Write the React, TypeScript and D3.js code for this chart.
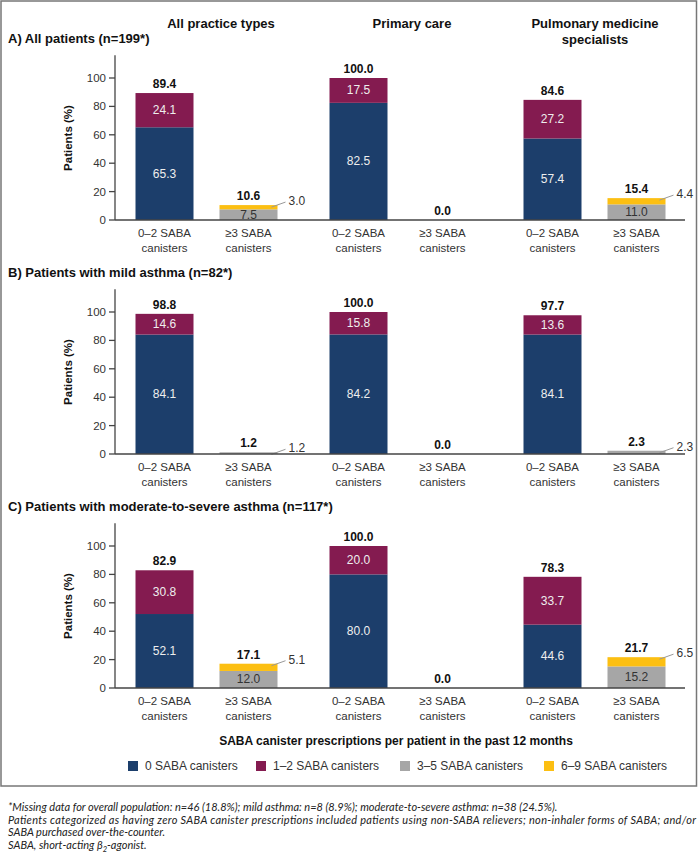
import React from "react";
import * as d3 from "d3";

const practiceTypes = ["All practice types", "Primary care", "Pulmonary medicine specialists"];
const practiceHeaderLines = [["All practice types"], ["Primary care"], ["Pulmonary medicine", "specialists"]];
const canisterCategories = ["0–2 SABA canisters", "≥3 SABA canisters"];
const categoryLabelLines = [["0–2 SABA", "canisters"], ["≥3 SABA", "canisters"]];
const seriesNames = ["0 SABA canisters", "1–2 SABA canisters", "3–5 SABA canisters", "6–9 SABA canisters"];
const seriesColors = ["#1c3e6b", "#841b50", "#a6a6a6", "#fcbf12"];
const panelTitles = [
  "A) All patients (n=199*)",
  "B) Patients with mild asthma (n=82*)",
  "C) Patients with moderate-to-severe asthma (n=117*)",
];

// [panel][practice type]
const zeroCanisters = [[65.3, 82.5, 57.4], [84.1, 84.2, 84.1], [52.1, 80.0, 44.6]];
const oneTwoCanisters = [[24.1, 17.5, 27.2], [14.6, 15.8, 13.6], [30.8, 20.0, 33.7]];
const threeFiveCanisters = [[7.5, 0, 11.0], [1.2, 0, 2.3], [12.0, 0, 15.2]];
const sixNineCanisters = [[3.0, 0, 4.4], [0, 0, 0], [5.1, 0, 6.5]];
const lowTotals = [[89.4, 100.0, 84.6], [98.8, 100.0, 97.7], [82.9, 100.0, 78.3]];
const highTotals = [[10.6, 0.0, 15.4], [1.2, 0.0, 2.3], [17.1, 0.0, 21.7]];
const yTicks = [0, 20, 40, 60, 80, 100];

const footnotes = [
  "*Missing data for overall population: n=46 (18.8%); mild asthma: n=8 (8.9%); moderate-to-severe asthma: n=38 (24.5%).",
  "Patients categorized as having zero SABA canister prescriptions included patients using non-SABA relievers; non-inhaler forms of SABA; and/or",
  "SABA purchased over-the-counter.",
];
const xAxisTitle = "SABA canister prescriptions per patient in the past 12 months";

const W = 700;
const H = 854;
const FONT = "'Liberation Sans', Arial, sans-serif";
const panelBaselines = [220, 454, 688];
const PX_PER_UNIT = 1.42;
const Y_MAX = 116;
const BAR_W = 58;
const AXIS_X = 115;
const AXIS_END = 685;
const fmt = d3.format(".1f");

const color = d3.scaleOrdinal<string, string>().domain(seriesNames).range(seriesColors);
const groupScale = d3.scaleBand<string>().domain(practiceTypes).range([109.5, 691.5]);
const innerScale = d3.scalePoint<string>().domain(canisterCategories).range([-42, 42]);

type Seg = { series: string; v0: number; v1: number; value: number };

function Panel({ p }: { p: number }) {
  const base = panelBaselines[p];
  const y = d3.scaleLinear().domain([0, Y_MAX]).range([base, base - Y_MAX * PX_PER_UNIT]);
  const items: React.ReactNode[] = [];

  practiceTypes.forEach((pt, g) => {
    const center = (groupScale(pt) as number) + groupScale.bandwidth() / 2;
    canisterCategories.forEach((cat, c) => {
      const x0 = center + (innerScale(cat) as number) - BAR_W / 2;
      const x1 = x0 + BAR_W;
      const cx = x0 + BAR_W / 2;
      const vals =
        c === 0
          ? [
              { s: seriesNames[0], v: zeroCanisters[p][g] },
              { s: seriesNames[1], v: oneTwoCanisters[p][g] },
            ]
          : [
              { s: seriesNames[2], v: threeFiveCanisters[p][g] },
              { s: seriesNames[3], v: sixNineCanisters[p][g] },
            ];
      let acc = 0;
      const segs: Seg[] = vals.map((d) => {
        const seg = { series: d.s, v0: acc, v1: acc + d.v, value: d.v };
        acc += d.v;
        return seg;
      });
      segs.forEach((s, i) => {
        if (s.value <= 0) return;
        const top = y(s.v1);
        const bot = y(s.v0);
        items.push(
          <rect key={`r-${g}-${c}-${i}`} x={x0} y={top} width={BAR_W} height={bot - top} fill={color(s.series)} />
        );
        const inside = c === 0 || (i === 0 && s.value >= 5);
        if (inside) {
          items.push(
            <text
              key={`t-${g}-${c}-${i}`}
              x={cx}
              y={(top + bot) / 2 + 4}
              textAnchor="middle"
              fontSize={12}
              fill={c === 0 ? "#eeeeee" : "#333"}
            >
              {fmt(s.value)}
            </text>
          );
        } else {
          const ly = top;
          items.push(
            <line
              key={`l-${g}-${c}-${i}`}
              x1={x1 - 6}
              y1={ly + 2}
              x2={x1 + 8}
              y2={ly - 3}
              stroke="#999"
              strokeWidth={1}
            />
          );
          items.push(
            <text key={`o-${g}-${c}-${i}`} x={x1 + 11} y={ly + 0} fontSize={12} fill="#333">
              {fmt(s.value)}
            </text>
          );
        }
      });
      const total = c === 0 ? lowTotals[p][g] : highTotals[p][g];
      items.push(
        <text
          key={`tot-${g}-${c}`}
          x={cx}
          y={y(acc) - 5}
          textAnchor="middle"
          fontSize={12}
          fontWeight="bold"
          fill="#111"
        >
          {fmt(total)}
        </text>
      );
      categoryLabelLines[c].forEach((line, li) => {
        items.push(
          <text key={`xl-${g}-${c}-${li}`} x={cx} y={base + 17 + li * 15} textAnchor="middle" fontSize={11.5} fill="#333">
            {line}
          </text>
        );
      });
    });
  });

  return (
    <g>
      <text x={8} y={base - 177} fontSize={13} fontWeight="bold" fill="#111">
        {panelTitles[p]}
      </text>
      <line x1={AXIS_X} x2={AXIS_X} y1={y(0)} y2={y(Y_MAX)} stroke="#444" strokeWidth={1.3} />
      {yTicks.map((t) => (
        <g key={t}>
          <line x1={AXIS_X - 6} x2={AXIS_X} y1={y(t)} y2={y(t)} stroke="#444" strokeWidth={1.3} />
          <text x={AXIS_X - 9} y={y(t) + 4} textAnchor="end" fontSize={11.5} fill="#333">
            {t}
          </text>
        </g>
      ))}
      <text
        transform={`translate(${72},${base - 82}) rotate(-90)`}
        textAnchor="middle"
        fontSize={11.5}
        fontWeight="bold"
        fill="#111"
      >
        Patients (%)
      </text>
      {items}
      <line x1={AXIS_X} x2={AXIS_END} y1={y(0)} y2={y(0)} stroke="#444" strokeWidth={1.5} />
    </g>
  );
}

export default function App() {
  const headerX = [221, 412, 595];
  const legendX = [128, 256, 400, 544];
  return (
    <svg
      width={W}
      height={H}
      style={{ position: "absolute", left: 0, top: 0, display: "block", background: "#fff" }}
      fontFamily={FONT}
    >
      <rect x={1} y={1} width={695.5} height={785} fill="none" stroke="#777" strokeWidth={1.5} />
      {practiceHeaderLines.map((lines, i) =>
        lines.map((l, j) => (
          <text
            key={`h-${i}-${j}`}
            x={headerX[i]}
            y={28 + j * 16}
            textAnchor="middle"
            fontSize={13}
            fontWeight="bold"
            fill="#111"
          >
            {l}
          </text>
        ))
      )}
      {panelTitles.map((_, p) => (
        <Panel key={p} p={p} />
      ))}
      <text x={396} y={745} textAnchor="middle" fontSize={12} fontWeight="bold" fill="#111">
        {xAxisTitle}
      </text>
      {seriesNames.map((s, i) => (
        <g key={s}>
          <rect x={legendX[i]} y={761} width={10} height={10} fill={color(s)} />
          <text x={legendX[i] + 17} y={770} fontSize={12} fill="#333">
            {s}
          </text>
        </g>
      ))}
      <g fontFamily="Lato, 'Open Sans', sans-serif" fontStyle="italic" fontSize={11} fill="#222">
        <text x={8} y={811}>
          {footnotes[0]}
        </text>
        <text x={8} y={823.5} textLength={688} lengthAdjust="spacing">
          {footnotes[1]}
        </text>
        <text x={8} y={836}>
          {footnotes[2]}
        </text>
        <text x={8} y={848.5}>
          SABA, short-acting β
          <tspan fontSize={7.5} dy={3}>
            2
          </tspan>
          <tspan dy={-3}>-agonist.</tspan>
        </text>
      </g>
    </svg>
  );
}
